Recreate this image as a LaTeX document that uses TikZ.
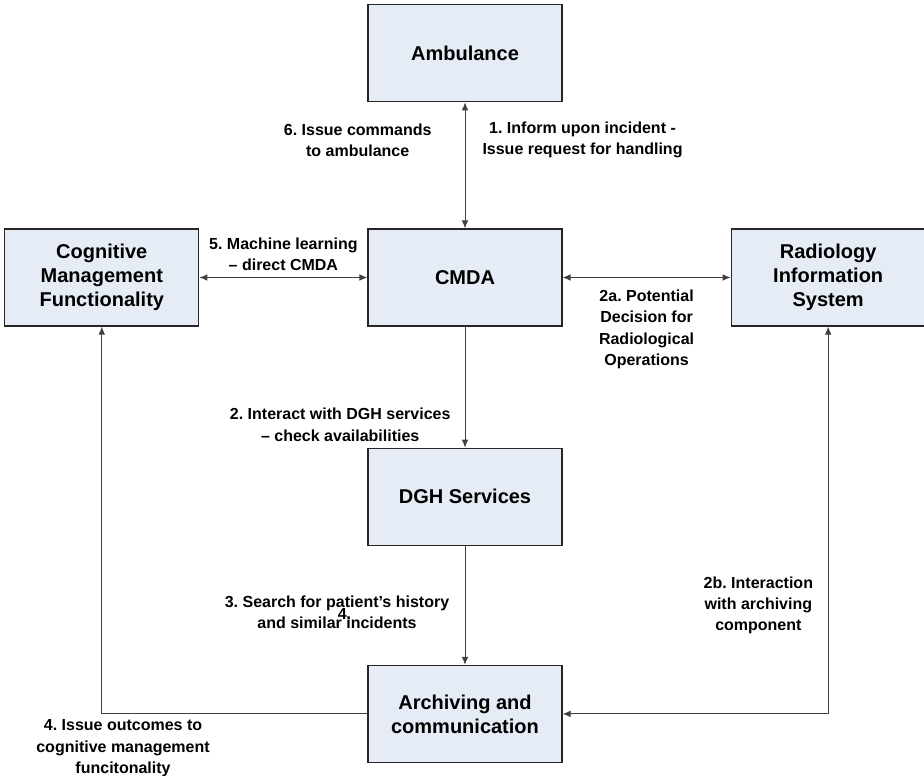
\documentclass[tikz,border=0pt]{standalone}
\usepackage{fontspec}
\setmainfont{Liberation Sans}
\usetikzlibrary{positioning,arrows.meta}
\tikzset{
	>={Latex[length=6pt,width=5pt]},
}
\definecolor{boxfill}{RGB}{230,236,246}

\begin{document}
\frenchspacing
\begin{tikzpicture}[
		comp/.style={rectangle, draw=black!85, line width=0.9pt, fill=boxfill, minimum width=145.5pt, minimum height=72.75pt, align=center, font=\fontsize{15}{18}\selectfont\bfseries},
		lbl/.style={align=center, inner sep=0pt, font=\fontsize{12}{16}\selectfont\bfseries},
		link/.style={draw=black!75, line width=0.75pt},
	]
		\useasboundingbox (-348.75pt,208.125pt) rectangle (344.25pt,-373.125pt);
		\draw
			node(cmda)[comp]{CMDA}
			node(amb)[comp,above=94.5pt of cmda]{Ambulance}
			node(cogn)[comp,left=126pt of cmda]{Cognitive\\Management\\Functionality}
			node(radio)[comp,right=126pt of cmda]{Radiology\\Information\\System}
			node(dgh)[comp,below=90.75pt of cmda]{DGH Services}
			node(arch)[comp,below=89.25pt of dgh]{Archiving and\\communication}
		;
		\draw[<->,link] (amb) -- (cmda)
			node(l6)[lbl,pos=.3,left=24.75pt]{6. Issue commands\\to ambulance}
			node(l1)[lbl,pos=.3,right=12.75pt]{1. Inform upon incident -\\Issue request for handling};
		\draw[<->,link] (cogn) -- (cmda) node(l5)[lbl,pos=.5,above=4.5pt]{5. Machine learning\\– direct CMDA};
		\draw[<->,link] (cmda) -- (radio) node(l2a)[lbl,pos=.5,below=9pt]{2a. Potential\\Decision for\\Radiological\\Operations};
		\draw[->,link] (cmda) -- (dgh) node(l2)[lbl,pos=.81,left=10.5pt]{2. Interact with DGH services\\– check availabilities};
		\draw[->,link] (dgh) -- (arch)
			node(l3)[lbl,pos=.56,left=11.5pt]{3. Search for patient’s history\\and similar incidents}
			node(l4x)[lbl,pos=.57,left=85pt]{4.};
		\draw[<->,link] (arch) -| (radio) node(l2b)[lbl,pos=.64,left=11pt]{2b. Interaction\\with archiving\\component};
		\draw[->,link] (arch) -| (cogn) node(l4)[lbl,pos=.46,below=4pt]{4. Issue outcomes to\\cognitive management\\funcitonality};
	\end{tikzpicture}
\end{document}
